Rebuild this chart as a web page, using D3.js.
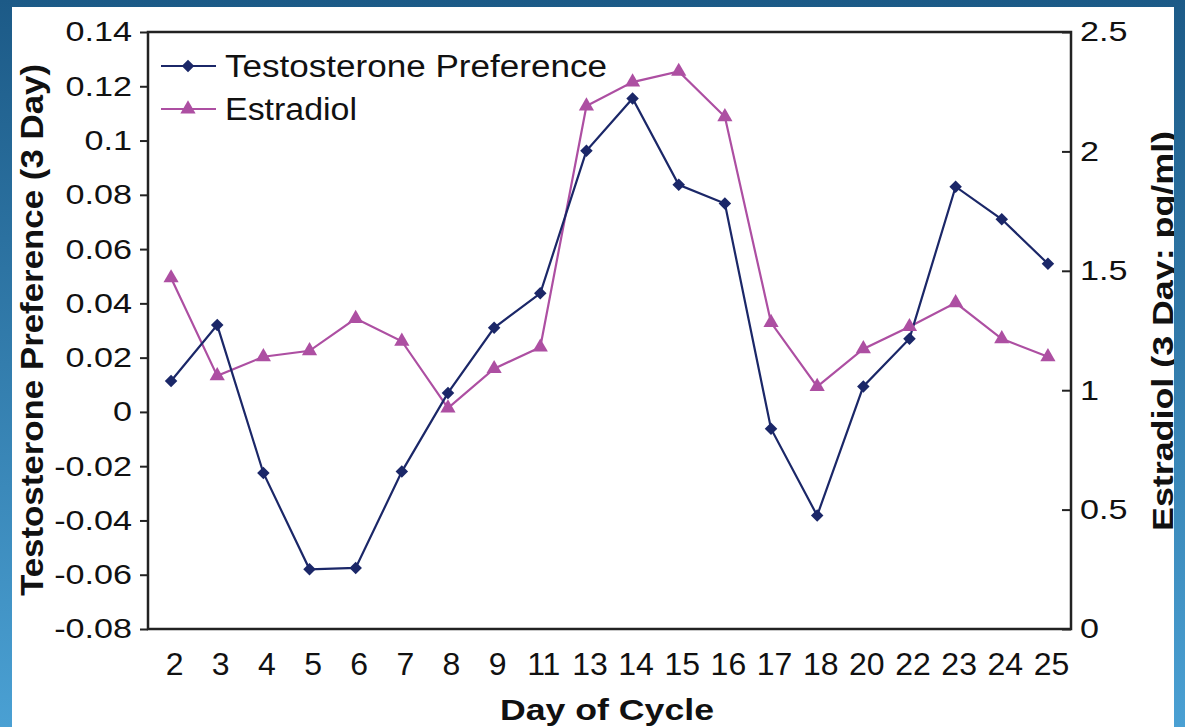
<!DOCTYPE html>
<html>
<head>
<meta charset="utf-8">
<script src="https://cdn.jsdelivr.net/npm/d3@7"></script>
<style>
    html, body { margin: 0; padding: 0; overflow: hidden; }
    svg { display: block; font-family: "Liberation Sans", Arial, sans-serif; }
</style>
</head>
<body>
<svg width="1185" height="727"></svg>
<script>
// data
var days = ["2", "3", "4", "5", "6", "7", "8", "9", "11", "13", "14", "15", "16", "17", "18", "20", "22", "23", "24", "25"];
var testosterone = [0.0114, 0.032, -0.0225, -0.058, -0.0575, -0.022, 0.007, 0.031, 0.0437, 0.0962, 0.1155, 0.0837, 0.0768, -0.0062, -0.0382, 0.0094, 0.027, 0.083, 0.071, 0.0546];
var estradiol = [1.47, 1.06, 1.14, 1.165, 1.3, 1.205, 0.925, 1.09, 1.18, 2.19, 2.29, 2.335, 2.145, 1.283, 1.015, 1.173, 1.266, 1.366, 1.215, 1.14];
var leftTicks = [0.14, 0.12, 0.1, 0.08, 0.06, 0.04, 0.02, 0, -0.02, -0.04, -0.06, -0.08];
var rightTicks = [0, 0.5, 1, 1.5, 2, 2.5];

var navy = "#1b2768",
    pink = "#ad4fa2";

var svg = d3.select("svg");

// blue frame round a white panel
var defs = svg.append("defs");
var grad = defs.append("linearGradient")
    .attr("id", "bg")
    .attr("x1", 0).attr("y1", 0)
    .attr("x2", 0).attr("y2", 1);
grad.append("stop").attr("offset", "0%").attr("stop-color", "#1c5a87");
grad.append("stop").attr("offset", "100%").attr("stop-color", "#4aa0d3");

defs.append("clipPath").attr("id", "panel")
    .append("rect")
    .attr("x", 12).attr("y", 7)
    .attr("width", 1162).attr("height", 730);

svg.append("rect")
    .attr("width", 1185).attr("height", 727)
    .attr("fill", "url(#bg)");
svg.append("rect")
    .attr("x", 12).attr("y", 7)
    .attr("width", 1162).attr("height", 730)
    .attr("fill", "#fff");

var pLeft = 148, pRight = 1071, pTop = 32, pBottom = 629;

var x = d3.scalePoint().domain(days).range([pLeft, pRight]).padding(0.5);
var yL = d3.scaleLinear().domain([-0.08, 0.14]).range([pBottom, pTop]);
var yR = d3.scaleLinear().domain([0, 2.5]).range([pBottom, pTop]);

// the scan is a bit wider than tall, so stretch the value labels
function widen(sel, k) {
    sel.each(function () {
        var w = this.getComputedTextLength();
        d3.select(this)
            .attr("textLength", w * k)
            .attr("lengthAdjust", "spacingAndGlyphs");
    });
}

// left axis
var axL = svg.append("g")
    .attr("transform", "translate(" + pLeft + ",0)")
    .call(d3.axisLeft(yL).tickValues(leftTicks).tickSize(8).tickPadding(8)
        .tickFormat(function (d) { return String(+d.toFixed(2)); }));

// right axis, ticks point inward
var axR = svg.append("g")
    .attr("transform", "translate(" + pRight + ",0)")
    .call(d3.axisRight(yR).tickValues(rightTicks).tickSize(-9).tickPadding(9)
        .tickFormat(function (d) { return String(d); }));

// x axis, labels only
var axX = svg.append("g")
    .attr("transform", "translate(0," + pBottom + ")")
    .call(d3.axisBottom(x).tickSize(0));

[axL, axR, axX].forEach(function (g) {
    g.select(".domain").remove();
    g.selectAll("line").attr("stroke", "#222").attr("stroke-width", 2);
    g.selectAll("text")
        .attr("font-size", 28)
        .attr("fill", "#111")
        .attr("font-family", "Liberation Sans, Arial, sans-serif");
});
widen(axL.selectAll("text"), 1.22);
widen(axR.selectAll("text"), 1.22);
axX.selectAll("text")
    .attr("font-size", 32)
    .attr("y", 46)
    .attr("dx", 3)
    .attr("dy", 0);

// box
svg.append("rect")
    .attr("x", pLeft).attr("y", pTop)
    .attr("width", pRight - pLeft).attr("height", pBottom - pTop)
    .attr("fill", "none")
    .attr("stroke", "#222")
    .attr("stroke-width", 2.5);

// axis titles
svg.append("text")
    .attr("transform", "translate(43,330) rotate(-90)")
    .attr("text-anchor", "middle")
    .attr("font-size", 32).attr("font-weight", "bold").attr("fill", "#111")
    .attr("textLength", 532).attr("lengthAdjust", "spacingAndGlyphs")
    .text("Testosterone Preference (3 Day)");

// right title runs into the blue frame, clip it at the panel edge
svg.append("g")
    .attr("clip-path", "url(#panel)")
    .append("text")
    .attr("transform", "translate(1173,331) rotate(-90)")
    .attr("text-anchor", "middle")
    .attr("font-size", 29).attr("font-weight", "bold").attr("fill", "#111")
    .attr("textLength", 400).attr("lengthAdjust", "spacingAndGlyphs")
    .text("Estradiol (3 Day: pg/ml)");

svg.append("text")
    .attr("x", 607)
    .attr("y", 720)
    .attr("text-anchor", "middle")
    .attr("font-size", 30).attr("font-weight", "bold").attr("fill", "#111")
    .attr("textLength", 214).attr("lengthAdjust", "spacingAndGlyphs")
    .text("Day of Cycle");

// lines
var lineL = d3.line()
    .x(function (d, i) { return x(days[i]); })
    .y(function (d) { return yL(d); });
var lineR = d3.line()
    .x(function (d, i) { return x(days[i]); })
    .y(function (d) { return yR(d); });

svg.append("path")
    .datum(estradiol)
    .attr("d", lineR)
    .attr("fill", "none")
    .attr("stroke", pink)
    .attr("stroke-width", 2.2);

svg.append("path")
    .datum(testosterone)
    .attr("d", lineL)
    .attr("fill", "none")
    .attr("stroke", navy)
    .attr("stroke-width", 2.2);

var diamond = d3.symbol().type(d3.symbolDiamond2).size(100);
var triangle = d3.symbol().type(d3.symbolTriangle).size(100);

svg.selectAll("path.tri")
    .data(estradiol)
    .enter()
    .append("path")
    .attr("class", "tri")
    .attr("d", triangle)
    .attr("transform", function (d, i) {
        return "translate(" + x(days[i]) + "," + yR(d) + ")";
    })
    .attr("fill", pink);

svg.selectAll("path.dia")
    .data(testosterone)
    .enter()
    .append("path")
    .attr("class", "dia")
    .attr("d", diamond)
    .attr("transform", function (d, i) {
        return "translate(" + x(days[i]) + "," + yL(d) + ")";
    })
    .attr("fill", navy);

// legend
var legend = [
    { name: "Testosterone Preference", color: navy, sym: diamond, len: 382 },
    { name: "Estradiol", color: pink, sym: triangle, len: 132 }
];
var lg = svg.selectAll("g.legend")
    .data(legend)
    .enter()
    .append("g")
    .attr("class", "legend")
    .attr("transform", function (d, i) {
        return "translate(161," + (66 + i * 43) + ")";
    });
lg.append("line")
    .attr("x1", 0).attr("x2", 55)
    .attr("stroke", function (d) { return d.color; })
    .attr("stroke-width", 2.2);
lg.append("path")
    .attr("d", function (d) { return d.sym(); })
    .attr("transform", "translate(27,0)")
    .attr("fill", function (d) { return d.color; });
lg.append("text")
    .attr("x", 64)
    .attr("y", 11)
    .attr("font-size", 31)
    .attr("fill", "#111")
    .attr("textLength", function (d) { return d.len; })
    .attr("lengthAdjust", "spacingAndGlyphs")
    .text(function (d) { return d.name; });
</script>
</body>
</html>
